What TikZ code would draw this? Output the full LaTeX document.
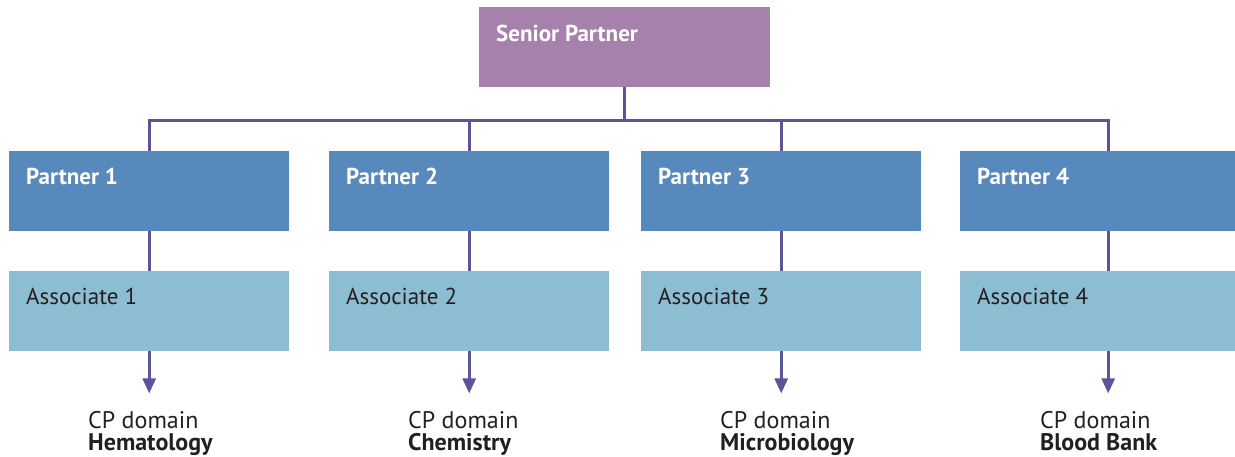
\documentclass[tikz,border=0pt]{standalone}
\usepackage{fontspec}
\setmainfont{PT Sans}
\usetikzlibrary{arrows.meta}
\definecolor{spcol}{HTML}{A681AB}
\definecolor{pcol}{HTML}{5889BD}
\definecolor{acol}{HTML}{8DBDD3}
\definecolor{lcol}{HTML}{5B5499}
\definecolor{tcol}{HTML}{231F20}
\tikzset{
  box/.style={rectangle, draw=none, inner sep=0pt, anchor=north west},
  spbox/.style={box, fill=spcol, minimum width=291pt, minimum height=80pt},
  pbox/.style={box, fill=pcol, minimum width=280pt, minimum height=80pt},
  abox/.style={box, fill=acol, minimum width=280pt, minimum height=80pt},
  btext/.style={anchor=base west, inner sep=0pt, text=white, font=\fontsize{23}{28}\selectfont\bfseries},
  atext/.style={anchor=base west, inner sep=0pt, text=tcol, font=\fontsize{23}{28}\selectfont},
  dtext/.style={anchor=base west, inner sep=0pt, text=tcol, font=\fontsize{24}{30}\selectfont},
  dbold/.style={dtext, font=\fontsize{24}{30}\selectfont\bfseries},
  conn/.style={draw=lcol, line width=2.8pt, line join=miter},
  arr/.style={conn, -{Triangle[length=15pt,width=13pt]}},
}
\begin{document}
\begin{tikzpicture}[x=1pt,y=-1pt]
\useasboundingbox (0,0) rectangle (1235,457);
% boxes
\node[spbox] (sp) at (479,7) {};
\node[pbox] (p1) at (9,151) {};
\node[pbox] (p2) at (329,151) {};
\node[pbox] (p3) at (641,151) {};
\node[pbox, minimum width=296pt] (p4) at (960,151) {};
\node[abox] (a1) at (9,271) {};
\node[abox] (a2) at (329,271) {};
\node[abox] (a3) at (641,271) {};
\node[abox, minimum width=296pt] (a4) at (960,271) {};
% box texts
\node[btext] (spt) at ([xshift=17pt,yshift=-35pt]sp.north west) {Senior Partner};
\node[btext] (p1t) at ([xshift=17pt,yshift=-34pt]p1.north west) {Partner 1};
\node[btext] (p2t) at ([xshift=17pt,yshift=-34pt]p2.north west) {Partner 2};
\node[btext] (p3t) at ([xshift=17pt,yshift=-34pt]p3.north west) {Partner 3};
\node[btext] (p4t) at ([xshift=17pt,yshift=-34pt]p4.north west) {Partner 4};
\node[atext] (a1t) at ([xshift=17pt,yshift=-34pt]a1.north west) {Associate 1};
\node[atext] (a2t) at ([xshift=17pt,yshift=-34pt]a2.north west) {Associate 2};
\node[atext] (a3t) at ([xshift=17pt,yshift=-34pt]a3.north west) {Associate 3};
\node[atext] (a4t) at ([xshift=17pt,yshift=-34pt]a4.north west) {Associate 4};
% connectors
\coordinate (bus) at (0,120.5);
\draw[conn] (sp.south) -- (sp.south |- bus);
\draw[conn] (p1.north) -- (p1.north |- bus) -- (p4.north |- bus) -- (p4.north);
\draw[conn] (p2.north) -- (p2.north |- bus);
\draw[conn] (p3.north) -- (p3.north |- bus);
\draw[conn] (p1.south) -- (a1.north);
\draw[conn] (p2.south) -- (a2.north);
\draw[conn] (p3.south) -- (a3.north);
\draw[conn] (p4.south) -- (a4.north);
\coordinate (e1) at ([yshift=-42pt]a1.south);
\coordinate (e2) at ([yshift=-42pt]a2.south);
\coordinate (e3) at ([yshift=-42pt]a3.south);
\coordinate (e4) at ([yshift=-42pt]a4.south);
\draw[arr] (a1.south) -- (e1);
\draw[arr] (a2.south) -- (e2);
\draw[arr] (a3.south) -- (e3);
\draw[arr] (a4.south) -- (e4);
% domain labels
\node[dtext] (d1a) at (88,428) {CP domain};
\node[dbold] (d1b) at (88,450) {Hematology};
\node[dtext] (d2a) at (408,428) {CP domain};
\node[dbold] (d2b) at (408,450) {Chemistry};
\node[dtext] (d3a) at (720,428) {CP domain};
\node[dbold] (d3b) at (720,450) {Microbiology};
\node[dtext] (d4a) at (1040,428) {CP domain};
\node[dbold] (d4b) at (1040,450) {Blood Bank};
\end{tikzpicture}
\end{document}
